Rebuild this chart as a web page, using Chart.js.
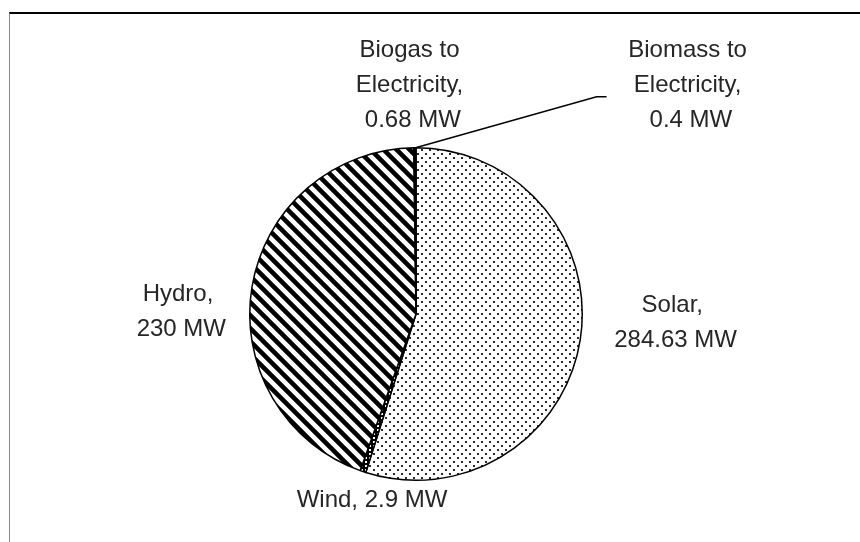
<!DOCTYPE html>
<html>
<head>
<meta charset="utf-8">
<script src="https://cdn.jsdelivr.net/npm/chart.js@4"></script>
<style>
  html, body { margin: 0; padding: 0; background: #fff; }
  #wrap { position: relative; width: 860px; height: 542px; }
  #frame { position: absolute; left: 9px; top: 12px; right: -4px; bottom: -4px;
           border-top: 2px solid #000; border-left: 1px solid #8a8a8a; }
  canvas { position: absolute; left: 0; top: 0; }
</style>
</head>
<body>
<div id="wrap">
  <div id="frame"></div>
  <canvas id="pie" width="860" height="542"></canvas>
</div>
<script>
// installed capacity by source (MW)
const categories = ['Solar', 'Wind', 'Hydro', 'Biogas to Electricity', 'Biomass to Electricity'];
const capacityMW = [284.63, 2.9, 230, 0.68, 0.4];
const nameLines = [['Solar,'], ['Wind,'], ['Hydro,'], ['Biogas to', 'Electricity,'], ['Biomass to', 'Electricity,']];

// where each label sits, relative to the outer edge of its slice
const labelPlace = [
    {dx: 92, dy: -17},
    {dx: 9, dy: 29, inline: true},
    {dx: -74, dy: 25},
    {dx: -5, dy: -62},
    {dx: 272, dy: -62, leader: {dx: -81, dy: 11, flat: 10}}
];

function makePattern(size, draw){
    const c = document.createElement('canvas');
    c.width = size; c.height = size;
    const g = c.getContext('2d');
    draw(g, size);
    return document.getElementById('pie').getContext('2d').createPattern(c, 'repeat');
}

const dots = makePattern(8, function(g, s){
    g.fillStyle = '#fff';
    g.fillRect(0, 0, s, s);
    g.fillStyle = '#2a2a2a';
    g.fillRect(1, 1, 2, 2);
    g.fillRect(5, 5, 2, 2);
});

const stripes = makePattern(13, function(g, s){
    g.fillStyle = '#fff';
    g.fillRect(0, 0, s, s);
    g.strokeStyle = '#000';
    g.lineWidth = 4.6;
    g.beginPath();
    g.moveTo(-s, 0); g.lineTo(s, 2 * s);
    g.moveTo(0, -s); g.lineTo(2 * s, s);
    g.moveTo(-s, -s); g.lineTo(2 * s, 2 * s);
    g.stroke();
});

const ladder = makePattern(4, function(g, s){
    g.fillStyle = '#000';
    g.fillRect(0, 0, s, s);
    g.fillStyle = '#fff';
    g.fillRect(1, 1, 2, 2);
});

const dense = makePattern(4, function(g, s){
    g.fillStyle = '#111';
    g.fillRect(0, 0, s, s);
    g.fillStyle = '#fff';
    g.fillRect(2, 2, 1, 1);
});

const fills = [dots, ladder, stripes, dense, dots];

// draw the data labels (and the leader line for the tiny biomass slice)
const pieLabels = {
    id: 'pieLabels',
    afterDatasetsDraw(chart){
        const ctx = chart.ctx;
        const arcs = chart.getDatasetMeta(0).data;
        ctx.save();
        ctx.font = '24px "Liberation Sans", Arial, sans-serif';
        ctx.fillStyle = '#262626';
        ctx.textAlign = 'center';
        ctx.textBaseline = 'middle';
        arcs.forEach((arc, i) => {
            const p = arc.getProps(['x', 'y', 'startAngle', 'endAngle', 'outerRadius'], true);
            const mid = (p.startAngle + p.endAngle) / 2;
            const ex = p.x + Math.cos(mid) * p.outerRadius;
            const ey = p.y + Math.sin(mid) * p.outerRadius;
            const place = labelPlace[i];
            const cx = ex + place.dx;
            const cy = ey + place.dy;

            const valueText = capacityMW[i] + ' MW';
            let lines;
            if (place.inline){
                lines = [nameLines[i].join(' ') + ' ' + valueText];
            } else {
                lines = nameLines[i].concat([' ' + valueText]);
            }
            const lh = 35;
            lines.forEach((t, k) => {
                ctx.fillText(t, cx, cy + (k - (lines.length - 1) / 2) * lh);
            });

            if (place.leader){
                const lx = cx + place.leader.dx;
                const ly = cy + place.leader.dy;
                ctx.strokeStyle = '#000';
                ctx.lineWidth = 1.3;
                ctx.beginPath();
                ctx.moveTo(ex, ey);
                ctx.lineTo(lx - place.leader.flat, ly);
                ctx.lineTo(lx, ly);
                ctx.stroke();
            }
        });
        ctx.restore();
    }
};

new Chart(document.getElementById('pie'), {
    type: 'pie',
    data: {
        labels: categories,
        datasets: [{
            data: capacityMW,
            backgroundColor: fills,
            borderColor: '#000',
            borderWidth: 1.5
        }]
    },
    options: {
        responsive: false,
        animation: false,
        devicePixelRatio: 1,
        layout: {
            padding: {left: 249, right: 277, top: 147, bottom: 61}
        },
        plugins: {
            legend: {display: false},
            tooltip: {enabled: false}
        }
    },
    plugins: [pieLabels]
});
</script>
</body>
</html>
